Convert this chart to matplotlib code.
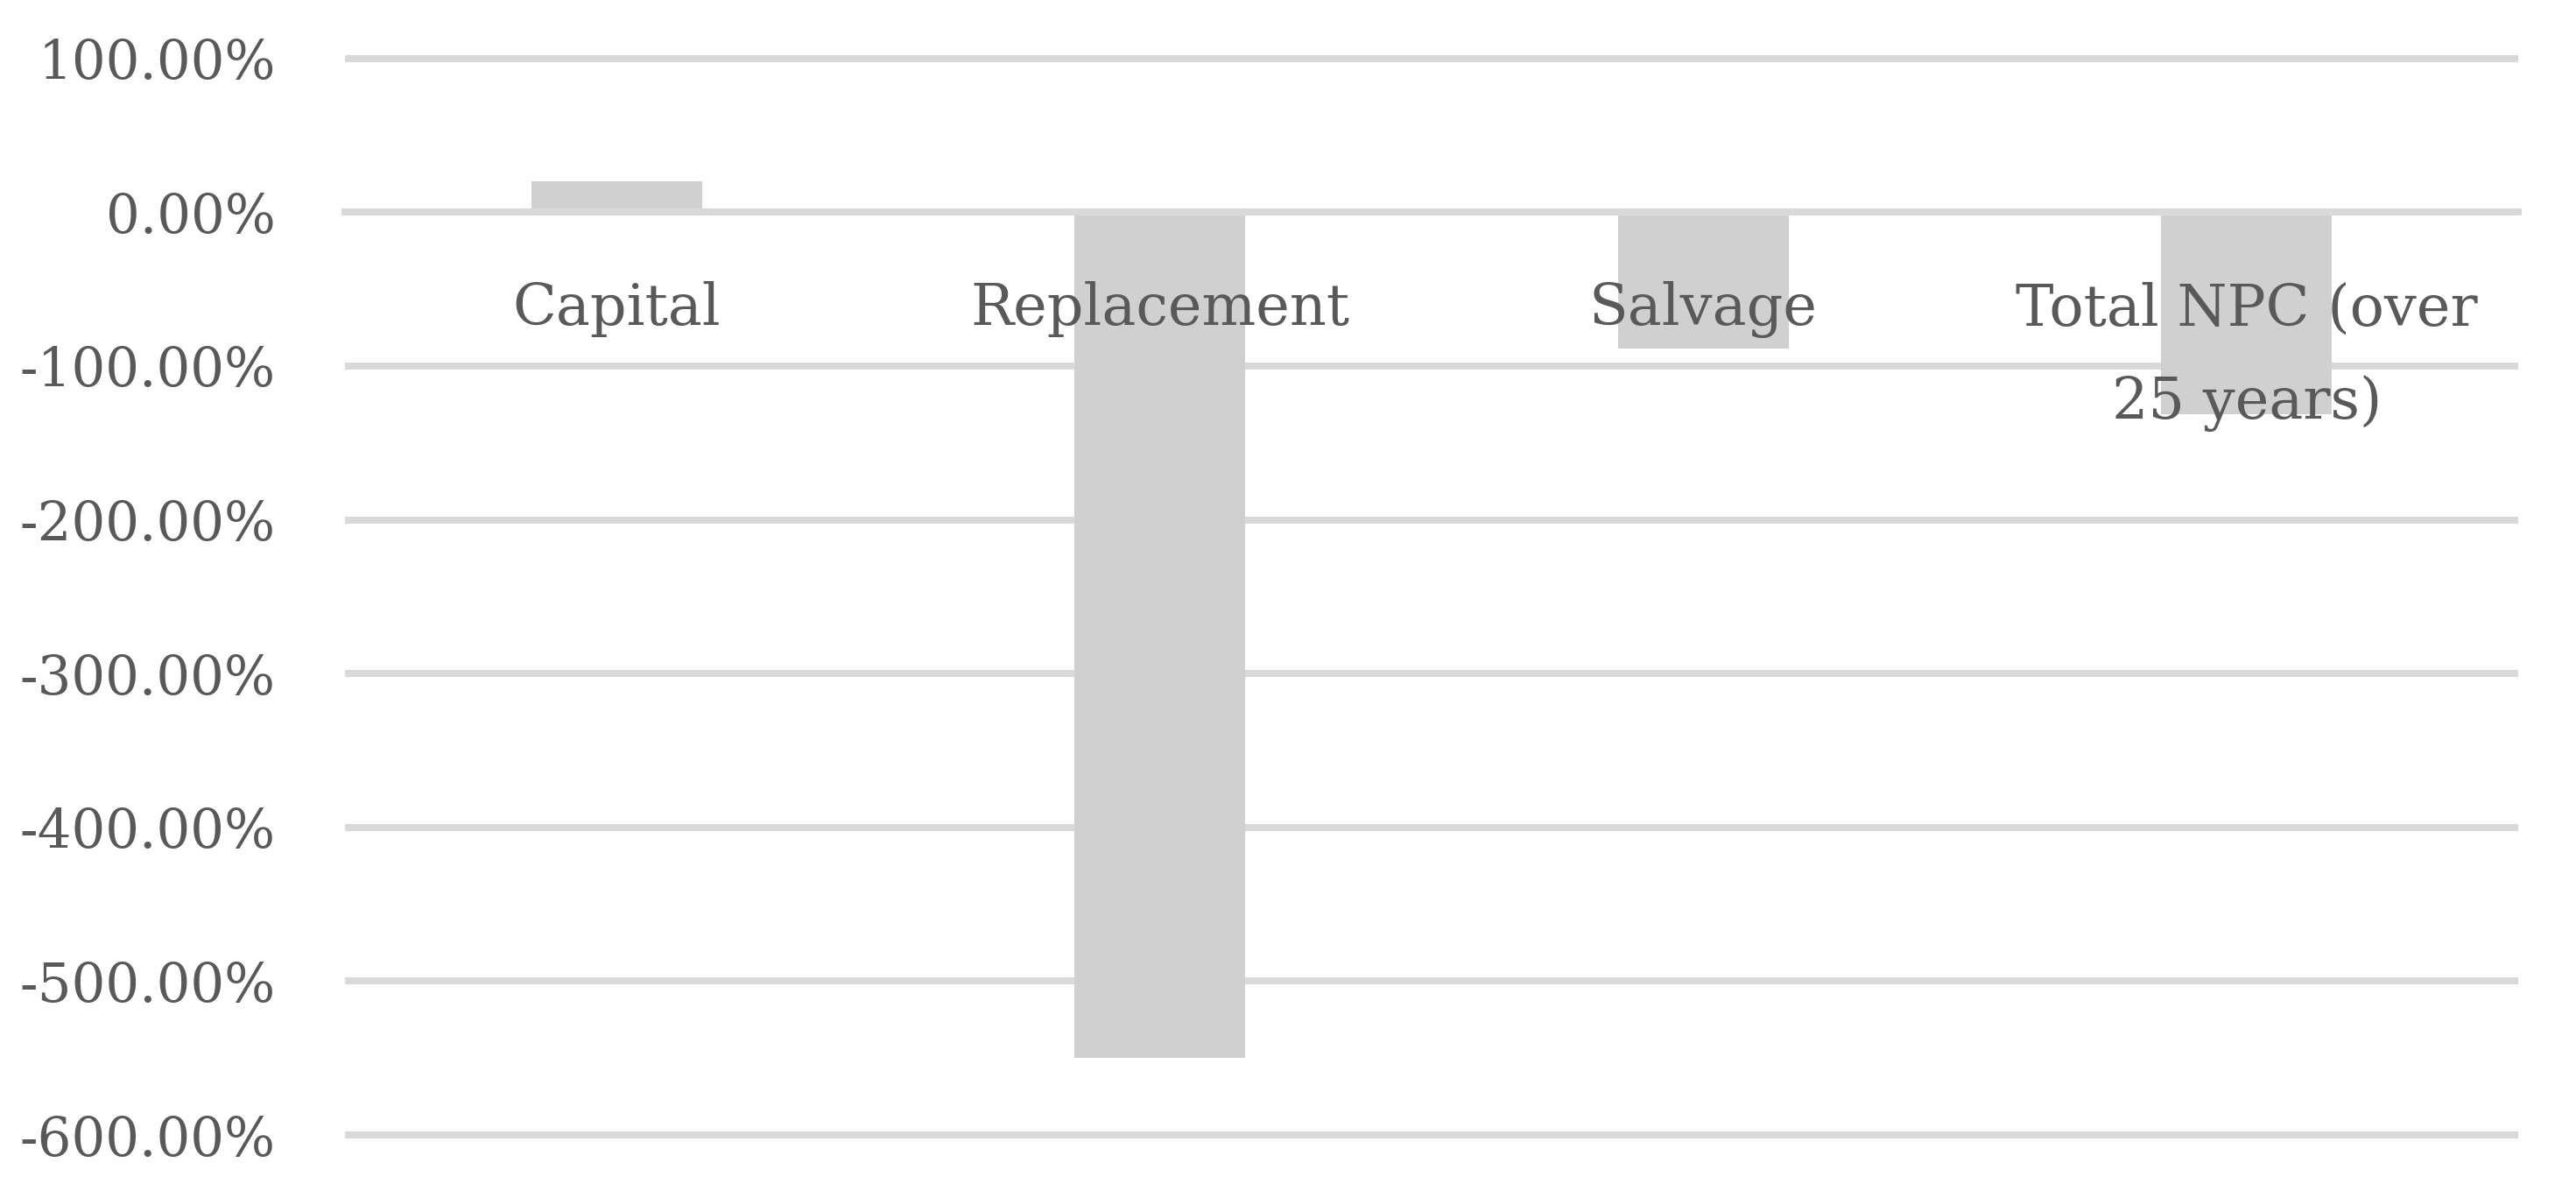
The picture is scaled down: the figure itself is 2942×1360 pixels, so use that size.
import matplotlib
matplotlib.use("Agg")
import matplotlib.pyplot as plt

categories = ["Capital", "Replacement", "Salvage", "Total NPC (over\n25 years)"]
values = [20.0, -550.0, -88.5, -131.5]
y_ticks = [100, 0, -100, -200, -300, -400, -500, -600]
y_tick_labels = ["100.00%", "0.00%", "-100.00%", "-200.00%", "-300.00%",
                 "-400.00%", "-500.00%", "-600.00%"]

W, H = 2942, 1360
fig = plt.figure(figsize=(W / 100, H / 100), dpi=100)
left = 394 / W
right = 2876 / W
top = 1 - 57.9 / H
bottom = 1 - 1304.8 / H
ax = fig.add_axes([left, bottom, right - left, top - bottom])

text_color = "#595959"
grid_color = "#d9d9d9"
bar_color = "#d0d0d0"
font = "DejaVu Serif"

x = list(range(len(categories)))
ax.bar(x, values, width=0.315, color=bar_color, zorder=2)

ax.set_xlim(-0.5, len(categories) - 0.5)
ax.set_ylim(-605, 105)
ax.set_yticks(y_ticks)
ax.set_yticklabels(y_tick_labels, fontfamily=font, fontsize=44, color=text_color)
ax.tick_params(axis="y", length=0, pad=57)

ax.grid(axis="y", color=grid_color, linewidth=5.8)
ax.set_axisbelow(True)

for s in ["top", "right", "left"]:
    ax.spines[s].set_visible(False)
ax.spines["bottom"].set_position(("data", 0))
ax.spines["bottom"].set_color(grid_color)
ax.spines["bottom"].set_linewidth(5.8)
ax.spines["bottom"].set_zorder(3)

ax.set_xticks(x)
ax.set_xticklabels(categories, fontfamily=font, fontsize=47, color=text_color,
                   linespacing=1.85)
ax.tick_params(axis="x", length=0, pad=57)
ax.xaxis.set_zorder(5)

fig.savefig("out.png", dpi=100, facecolor="white")
